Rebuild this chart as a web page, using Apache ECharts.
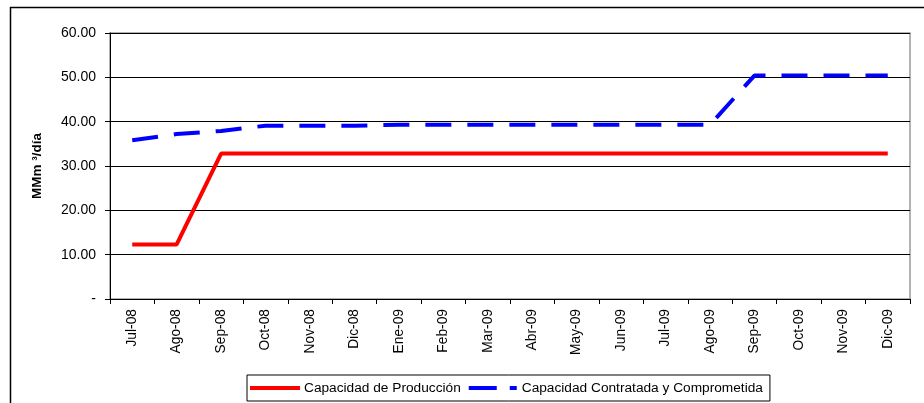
<!DOCTYPE html>
<html>
<head>
<meta charset="utf-8">
<script src="https://cdn.jsdelivr.net/npm/echarts@6/dist/echarts.min.js"></script>
<style>
html,body{margin:0;padding:0;background:#fff;}
#chart{width:924px;height:403px;}
</style>
</head>
<body>
<div id="chart"></div>
<script>
// Monthly capacity, Jul-08 to Dic-09 (MMm³/día)
const months = ['Jul-08','Ago-08','Sep-08','Oct-08','Nov-08','Dic-08','Ene-09','Feb-09','Mar-09',
  'Abr-09','May-09','Jun-09','Jul-09','Ago-09','Sep-09','Oct-09','Nov-09','Dic-09'];
const produccion = [12.3,12.3,32.8,32.8,32.8,32.8,32.8,32.8,32.8,32.8,32.8,32.8,32.8,32.8,32.8,32.8,32.8,32.8];
const contratada = [35.8,37.2,37.9,39.1,39.1,39.1,39.3,39.3,39.3,39.3,39.3,39.3,39.3,39.3,50.4,50.4,50.4,50.4];
const yTicks = [0,10,20,30,40,50,60];

const chart = echarts.init(document.getElementById('chart'));
const font = 'Liberation Sans, Arial, sans-serif';

chart.setOption({
  animation: false,
  backgroundColor: '#fff',
  textStyle: { fontFamily: font },
  graphic: [{
    type: 'rect',
    shape: { x: 10.5, y: 7.5, width: 1000, height: 500 },
    style: { fill: 'none', stroke: '#000', lineWidth: 1.5 },
    silent: true
  }],
  grid: { left: 110, right: 14, top: 33, bottom: 104, show: true, borderColor: '#999', borderWidth: 1.5 },
  legend: {
    bottom: 2,
    left: 247,
    padding: [6, 7, 6, 3],
    itemGap: 8,
    itemWidth: 50,
    itemHeight: 4,
    borderColor: '#000',
    borderWidth: 1,
    textStyle: { fontSize: 13.7, color: '#000', fontFamily: font, padding: [0, 0, 0, -1] },
    data: [
      { name: 'Capacidad de Producción', icon: 'path://M0,0H50V4H0Z' },
      { name: 'Capacidad Contratada y Comprometida', icon: 'path://M0,0H28V4H0Z M41,0H48V4H41Z' }
    ]
  },
  xAxis: {
    type: 'category',
    data: months,
    boundaryGap: true,
    axisLine: { lineStyle: { color: '#000', width: 1 } },
    axisTick: { show: true, length: 5, lineStyle: { color: '#000' } },
    axisLabel: { rotate: 90, fontSize: 13.8, color: '#000', fontFamily: font, margin: 10, interval: 0 }
  },
  yAxis: {
    type: 'value',
    min: yTicks[0],
    max: yTicks[yTicks.length - 1],
    interval: 10,
    name: 'MMm ³/día',
    nameLocation: 'middle',
    nameGap: 66,
    nameTextStyle: { fontSize: 13.5, fontWeight: 'bold', color: '#000', fontFamily: font },
    axisLine: { show: true, lineStyle: { color: '#000', width: 1 } },
    axisTick: { show: true, length: 5, lineStyle: { color: '#000' } },
    axisLabel: {
      fontSize: 14, color: '#000', fontFamily: font, margin: 14,
      formatter: v => v === 0 ? '-' : v.toFixed(2)
    },
    splitLine: { lineStyle: { color: '#000', width: 1 } }
  },
  series: [
    {
      name: 'Capacidad de Producción',
      type: 'line',
      data: produccion,
      symbol: 'none',
      lineStyle: { color: '#ff0000', width: 4 },
      itemStyle: { color: '#ff0000' }
    },
    {
      name: 'Capacidad Contratada y Comprometida',
      type: 'line',
      data: contratada,
      symbol: 'none',
      lineStyle: { color: '#0000ff', width: 4, type: [26, 16] },
      itemStyle: { color: '#0000ff' }
    }
  ]
});
</script>
</body>
</html>
